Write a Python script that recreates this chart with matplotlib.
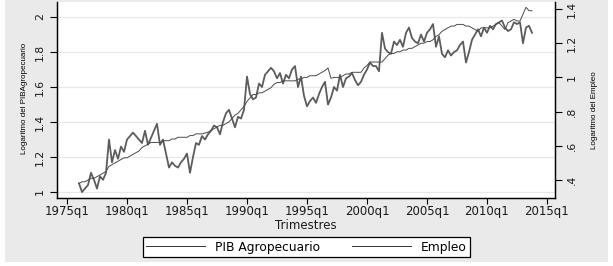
# -*- coding: utf-8 -*-
# PIB Agropecuario vs Empleo (logaritmos), trimestral 1976q1 - 2013q4

import numpy as np
import matplotlib.pyplot as plt
from matplotlib.lines import Line2D
from matplotlib.patches import Rectangle

# Datos trimestrales (una fila por año, q1..q4)
pib = [1.05, 1.00, 1.02, 1.04,   # 1976
       1.11, 1.07, 1.02, 1.09,   # 1977
       1.07, 1.11, 1.30, 1.17,   # 1978
       1.24, 1.19, 1.26, 1.23,   # 1979
       1.30, 1.32, 1.34, 1.32,   # 1980
       1.30, 1.28, 1.35, 1.27,   # 1981
       1.31, 1.35, 1.39, 1.27,   # 1982
       1.30, 1.22, 1.14, 1.17,   # 1983
       1.15, 1.14, 1.17, 1.19,   # 1984
       1.22, 1.11, 1.20, 1.28,   # 1985
       1.27, 1.32, 1.30, 1.33,   # 1986
       1.35, 1.38, 1.37, 1.33,   # 1987
       1.40, 1.45, 1.47, 1.42,   # 1988
       1.37, 1.43, 1.42, 1.47,   # 1989
       1.66, 1.56, 1.53, 1.54,   # 1990
       1.62, 1.60, 1.67, 1.69,   # 1991
       1.71, 1.69, 1.65, 1.68,   # 1992
       1.62, 1.67, 1.65, 1.70,   # 1993
       1.72, 1.60, 1.66, 1.55,   # 1994
       1.49, 1.52, 1.54, 1.51,   # 1995
       1.56, 1.60, 1.63, 1.50,   # 1996
       1.54, 1.60, 1.58, 1.67,   # 1997
       1.60, 1.65, 1.66, 1.68,   # 1998
       1.64, 1.61, 1.63, 1.67,   # 1999
       1.70, 1.74, 1.72, 1.72,   # 2000
       1.69, 1.91, 1.82, 1.80,   # 2001
       1.79, 1.86, 1.84, 1.87,   # 2002
       1.83, 1.91, 1.94, 1.88,   # 2003
       1.86, 1.85, 1.90, 1.86,   # 2004
       1.91, 1.93, 1.96, 1.83,   # 2005
       1.89, 1.79, 1.77, 1.81,   # 2006
       1.78, 1.80, 1.81, 1.84,   # 2007
       1.86, 1.74, 1.80, 1.87,   # 2008
       1.90, 1.93, 1.89, 1.94,   # 2009
       1.91, 1.95, 1.93, 1.96,   # 2010
       1.97, 1.98, 1.94, 1.92,   # 2011
       1.93, 1.97, 1.96, 1.97,   # 2012
       1.85, 1.94, 1.95, 1.91]   # 2013

empleo = [0.38, 0.39, 0.39, 0.40,   # 1976
          0.41, 0.41, 0.42, 0.43,   # 1977
          0.44, 0.45, 0.48, 0.49,   # 1978
          0.50, 0.51, 0.52, 0.53,   # 1979
          0.53, 0.54, 0.55, 0.56,   # 1980
          0.57, 0.59, 0.60, 0.61,   # 1981
          0.62, 0.62, 0.62, 0.62,   # 1982
          0.63, 0.63, 0.63, 0.64,   # 1983
          0.64, 0.65, 0.65, 0.65,   # 1984
          0.65, 0.66, 0.66, 0.67,   # 1985
          0.67, 0.67, 0.675, 0.68,  # 1986
          0.69, 0.70, 0.71, 0.72,   # 1987
          0.72, 0.73, 0.74, 0.76,   # 1988
          0.78, 0.79, 0.81, 0.83,   # 1989
          0.86, 0.88, 0.90, 0.90,   # 1990
          0.91, 0.91, 0.92, 0.93,   # 1991
          0.94, 0.96, 0.97, 0.97,   # 1992
          0.98, 0.98, 0.98, 0.98,   # 1993
          0.98, 0.99, 0.99, 1.00,   # 1994
          1.00, 1.01, 1.01, 1.01,   # 1995
          1.02, 1.03, 1.04, 1.055,  # 1996
          0.995, 1.00, 1.00, 1.00,  # 1997
          1.01, 1.02, 1.02, 1.03,   # 1998
          1.03, 1.03, 1.03, 1.055,  # 1999
          1.07, 1.09, 1.09, 1.09,   # 2000
          1.09, 1.09, 1.11, 1.13,   # 2001
          1.14, 1.14, 1.15, 1.15,   # 2002
          1.16, 1.16, 1.17, 1.17,   # 2003
          1.18, 1.19, 1.20, 1.20,   # 2004
          1.21, 1.21, 1.22, 1.24,   # 2005
          1.25, 1.27, 1.28, 1.29,   # 2006
          1.30, 1.30, 1.31, 1.31,   # 2007
          1.31, 1.30, 1.30, 1.29,   # 2008
          1.28, 1.27, 1.29, 1.29,   # 2009
          1.29, 1.29, 1.30, 1.31,   # 2010
          1.32, 1.30, 1.28, 1.32,   # 2011
          1.33, 1.34, 1.33, 1.33,   # 2012
          1.37, 1.41, 1.39, 1.39]   # 2013

first_year = 1976
xticks = [1975, 1980, 1985, 1990, 1995, 2000, 2005, 2010, 2015]
xticklabels = ['1975q1', '1980q1', '1985q1', '1990q1', '1995q1',
               '2000q1', '2005q1', '2010q1', '2015q1']
yticks_left = [1, 1.2, 1.4, 1.6, 1.8, 2]
yticklabels_left = ['1', '1.2', '1.4', '1.6', '1.8', '2']
yticks_right = [0.4, 0.6, 0.8, 1, 1.2, 1.4]
yticklabels_right = ['.4', '.6', '.8', '1', '1.2', '1.4']

# trimestre -> año decimal
t = first_year + np.arange(len(pib)) / 4.0

W, H = 613, 266
fig = plt.figure(figsize=(W / 100, H / 100), dpi=100, facecolor='white')
bg = '#eaeaea'
# fondo gris de la grafica (con borde blanco)
fig.patches.append(Rectangle((5 / W, 4 / H), 603 / W, 262 / H,
                             transform=fig.transFigure, facecolor=bg,
                             edgecolor='none', zorder=-10))

ax = fig.add_axes([57 / W, 1 - 198 / H, 498 / W, 196 / H])
ax.set_facecolor('white')
ax2 = ax.twinx()

ax.plot(t, pib, color='#5c5c5c', lw=1.3, zorder=3)
ax2.plot(t, empleo, color='#4a4a4a', lw=0.7, zorder=3)

ax.set_xlim(1974.167, 2015.667)
ax.set_ylim(0.966, 2.086)
ax2.set_ylim(0.295, 1.441)

# grid horizontal del eje izquierdo
ax.set_yticks(yticks_left)
ax.set_yticklabels(yticklabels_left, rotation=90, va='center', fontsize=7.8)
ax.grid(axis='y', color='#e8e8e8', lw=0.9)
ax.set_axisbelow(True)
ax2.set_yticks(yticks_right)
ax2.set_yticklabels(yticklabels_right, rotation=90, va='center', fontsize=7.8)

ax.set_xticks(xticks)
ax.set_xticklabels(xticklabels, fontsize=8.5)

for a in (ax, ax2):
    a.spines['top'].set_visible(False)
    for s in ('left', 'right', 'bottom'):
        a.spines[s].set_linewidth(0.9)
    a.tick_params(length=5, width=0.8, color='black', labelcolor='#1a1a1a')
ax.tick_params(axis='y', pad=3.5)
ax2.tick_params(axis='y', pad=3.5)
ax.tick_params(axis='x', length=4, pad=1)

fig.text(306 / W, 1 - 225.5 / H, 'Trimestres', ha='center', va='center',
         fontsize=8.5, color='#1a1a1a')
fig.text(25 / W, 1 - 98 / H, 'Logaritmo del PIBAgropecuario', rotation=90,
         ha='center', va='center', fontsize=5.8, family='Liberation Sans')
fig.text(595 / W, 1 - 110 / H, 'Logaritmo del Empleo', rotation=90,
         ha='center', va='center', fontsize=5.8, family='Liberation Sans')

# leyenda
handles = [Line2D([], [], color='#333333', lw=0.7),
           Line2D([], [], color='#333333', lw=0.7)]
leg = fig.legend(handles, ['PIB Agropecuario', 'Empleo'], ncol=2,
                 loc='center', bbox_to_anchor=(306 / W, 1 - 247 / H),
                 fontsize=8.8, frameon=True, fancybox=False,
                 edgecolor='black', facecolor='white', framealpha=1,
                 handlelength=4.9, handletextpad=0.75, columnspacing=2.6,
                 borderpad=0.25, borderaxespad=0)
leg.get_frame().set_linewidth(0.9)

plt.savefig('out.png', dpi=100, facecolor=fig.get_facecolor())
